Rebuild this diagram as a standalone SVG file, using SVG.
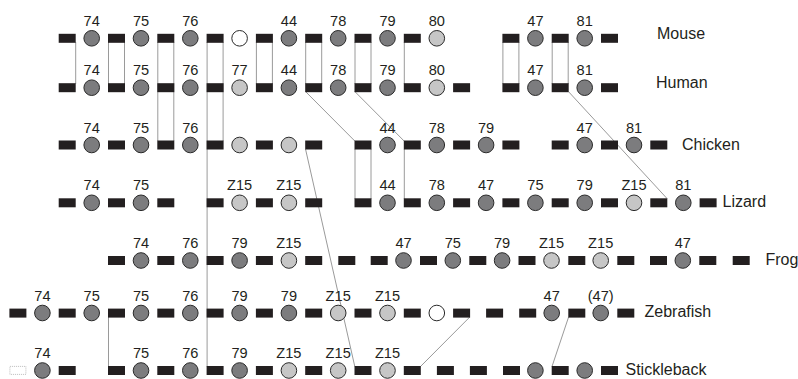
<svg xmlns="http://www.w3.org/2000/svg" width="798" height="379" viewBox="0 0 798 379">
<style>
.bg{fill:#fff}
.r{fill:#231f20}
.c{stroke:#2a2a2a;stroke-width:1}
.d{fill:#7c7c7e}
.l{fill:#c6c6c6}
.w{fill:#fff}
.t{font-family:"Liberation Sans",Arial,sans-serif;font-size:14.6px;fill:#231f20;text-anchor:middle}
.s{font-family:"Liberation Sans",Arial,sans-serif;font-size:16px;fill:#231f20}
.ln{stroke:#9a9a9a;stroke-width:1;fill:none}
.dot{fill:none;stroke:#aaa;stroke-width:0.8;stroke-dasharray:1 1}
</style>
<rect class="bg" x="0" y="0" width="798" height="379"/>
<g id="connectors">
<line class="ln" x1="75.7" y1="42" x2="75.7" y2="84"/>
<line class="ln" x1="108.5" y1="42" x2="108.5" y2="84"/>
<line class="ln" x1="124.5" y1="42" x2="124.5" y2="84"/>
<line class="ln" x1="157.8" y1="42" x2="157.8" y2="141"/>
<line class="ln" x1="173.8" y1="42" x2="173.8" y2="141"/>
<line class="ln" x1="207.1" y1="42" x2="207.1" y2="366.5"/>
<line class="ln" x1="223.1" y1="42" x2="223.1" y2="141"/>
<line class="ln" x1="256.4" y1="42" x2="256.4" y2="84"/>
<line class="ln" x1="272.4" y1="42" x2="272.4" y2="84"/>
<line class="ln" x1="305.7" y1="42" x2="305.7" y2="84"/>
<line class="ln" x1="321.7" y1="42" x2="321.7" y2="84"/>
<line class="ln" x1="355" y1="42" x2="355" y2="84"/>
<line class="ln" x1="371" y1="42" x2="371" y2="84"/>
<line class="ln" x1="404.3" y1="42" x2="404.3" y2="84"/>
<line class="ln" x1="502.9" y1="42" x2="502.9" y2="84"/>
<line class="ln" x1="518.9" y1="42" x2="518.9" y2="84"/>
<line class="ln" x1="552.2" y1="42" x2="552.2" y2="84"/>
<line class="ln" x1="568.2" y1="42" x2="568.2" y2="84"/>
<line class="ln" x1="305.5" y1="91.5" x2="354.8" y2="141"/>
<line class="ln" x1="354.8" y1="91.5" x2="404.1" y2="141"/>
<line class="ln" x1="568.4" y1="91.5" x2="667" y2="198.5"/>
<line class="ln" x1="355" y1="149" x2="355" y2="199"/>
<line class="ln" x1="371" y1="149" x2="371" y2="199"/>
<line class="ln" x1="404.3" y1="149" x2="404.3" y2="199"/>
<line class="ln" x1="305.5" y1="149" x2="354.8" y2="366.5"/>
<line class="ln" x1="108.5" y1="317" x2="108.5" y2="366.5"/>
<line class="ln" x1="469.8" y1="317" x2="420.5" y2="366.5"/>
<line class="ln" x1="568.6" y1="317" x2="552" y2="366.5"/>
</g>
<g id="mouse">
<rect class="r" x="58.7" y="33.8" width="17" height="9"/><rect class="r" x="108" y="33.8" width="17" height="9"/><rect class="r" x="157.3" y="33.8" width="17" height="9"/><rect class="r" x="206.6" y="33.8" width="17" height="9"/><rect class="r" x="255.9" y="33.8" width="17" height="9"/><rect class="r" x="305.2" y="33.8" width="17" height="9"/><rect class="r" x="354.5" y="33.8" width="17" height="9"/><rect class="r" x="403.8" y="33.8" width="17" height="9"/><rect class="r" x="502.4" y="33.8" width="17" height="9"/><rect class="r" x="551.7" y="33.8" width="17" height="9"/><rect class="r" x="601" y="33.8" width="17" height="9"/>
<g id="mouse-74"><circle class="c d" cx="91.7" cy="38.3" r="7.8"/><text class="t" x="91.7" y="26">74</text></g>
<g id="mouse-75"><circle class="c d" cx="141" cy="38.3" r="7.8"/><text class="t" x="141" y="26">75</text></g>
<g id="mouse-76"><circle class="c d" cx="190.3" cy="38.3" r="7.8"/><text class="t" x="190.3" y="26">76</text></g>
<g id="mouse-x"><circle class="c w" cx="239.6" cy="38.3" r="7.8"/></g>
<g id="mouse-44"><circle class="c d" cx="288.9" cy="38.3" r="7.8"/><text class="t" x="288.9" y="26">44</text></g>
<g id="mouse-78"><circle class="c d" cx="338.2" cy="38.3" r="7.8"/><text class="t" x="338.2" y="26">78</text></g>
<g id="mouse-79"><circle class="c d" cx="387.5" cy="38.3" r="7.8"/><text class="t" x="387.5" y="26">79</text></g>
<g id="mouse-80"><circle class="c l" cx="436.8" cy="38.3" r="7.8"/><text class="t" x="436.8" y="26">80</text></g>
<g id="mouse-47"><circle class="c d" cx="535.4" cy="38.3" r="7.8"/><text class="t" x="535.4" y="26">47</text></g>
<g id="mouse-81"><circle class="c d" cx="584.7" cy="38.3" r="7.8"/><text class="t" x="584.7" y="26">81</text></g>
<text class="s" x="657" y="38.7">Mouse</text>
</g>
<g id="human">
<rect class="r" x="58.7" y="83.2" width="17" height="9"/><rect class="r" x="108" y="83.2" width="17" height="9"/><rect class="r" x="157.3" y="83.2" width="17" height="9"/><rect class="r" x="206.6" y="83.2" width="17" height="9"/><rect class="r" x="255.9" y="83.2" width="17" height="9"/><rect class="r" x="305.2" y="83.2" width="17" height="9"/><rect class="r" x="354.5" y="83.2" width="17" height="9"/><rect class="r" x="403.8" y="83.2" width="17" height="9"/><rect class="r" x="453.1" y="83.2" width="17" height="9"/><rect class="r" x="502.4" y="83.2" width="17" height="9"/><rect class="r" x="551.7" y="83.2" width="17" height="9"/><rect class="r" x="601" y="83.2" width="17" height="9"/>
<g id="human-74"><circle class="c d" cx="91.7" cy="87.7" r="7.8"/><text class="t" x="91.7" y="75.3">74</text></g>
<g id="human-75"><circle class="c d" cx="141" cy="87.7" r="7.8"/><text class="t" x="141" y="75.3">75</text></g>
<g id="human-76"><circle class="c d" cx="190.3" cy="87.7" r="7.8"/><text class="t" x="190.3" y="75.3">76</text></g>
<g id="human-77"><circle class="c l" cx="239.6" cy="87.7" r="7.8"/><text class="t" x="239.6" y="75.3">77</text></g>
<g id="human-44"><circle class="c d" cx="288.9" cy="87.7" r="7.8"/><text class="t" x="288.9" y="75.3">44</text></g>
<g id="human-78"><circle class="c d" cx="338.2" cy="87.7" r="7.8"/><text class="t" x="338.2" y="75.3">78</text></g>
<g id="human-79"><circle class="c d" cx="387.5" cy="87.7" r="7.8"/><text class="t" x="387.5" y="75.3">79</text></g>
<g id="human-80"><circle class="c l" cx="436.8" cy="87.7" r="7.8"/><text class="t" x="436.8" y="75.3">80</text></g>
<g id="human-47"><circle class="c d" cx="535.4" cy="87.7" r="7.8"/><text class="t" x="535.4" y="75.3">47</text></g>
<g id="human-81"><circle class="c d" cx="584.7" cy="87.7" r="7.8"/><text class="t" x="584.7" y="75.3">81</text></g>
<text class="s" x="656" y="88">Human</text>
</g>
<g id="chicken">
<rect class="r" x="58.7" y="140.5" width="17" height="9"/><rect class="r" x="108" y="140.5" width="17" height="9"/><rect class="r" x="157.3" y="140.5" width="17" height="9"/><rect class="r" x="206.6" y="140.5" width="17" height="9"/><rect class="r" x="255.9" y="140.5" width="17" height="9"/><rect class="r" x="305.2" y="140.5" width="17" height="9"/><rect class="r" x="354.5" y="140.5" width="17" height="9"/><rect class="r" x="403.8" y="140.5" width="17" height="9"/><rect class="r" x="453.1" y="140.5" width="17" height="9"/><rect class="r" x="502.4" y="140.5" width="17" height="9"/><rect class="r" x="551.7" y="140.5" width="17" height="9"/><rect class="r" x="601" y="140.5" width="17" height="9"/><rect class="r" x="650.3" y="140.5" width="17" height="9"/>
<g id="chicken-74"><circle class="c d" cx="91.7" cy="145" r="7.8"/><text class="t" x="91.7" y="132.5">74</text></g>
<g id="chicken-75"><circle class="c d" cx="141" cy="145" r="7.8"/><text class="t" x="141" y="132.5">75</text></g>
<g id="chicken-76"><circle class="c d" cx="190.3" cy="145" r="7.8"/><text class="t" x="190.3" y="132.5">76</text></g>
<g id="chicken-a"><circle class="c l" cx="239.6" cy="145" r="7.8"/></g>
<g id="chicken-b"><circle class="c l" cx="288.9" cy="145" r="7.8"/></g>
<g id="chicken-44"><circle class="c d" cx="387.5" cy="145" r="7.8"/><text class="t" x="387.5" y="132.5">44</text></g>
<g id="chicken-78"><circle class="c d" cx="436.8" cy="145" r="7.8"/><text class="t" x="436.8" y="132.5">78</text></g>
<g id="chicken-79"><circle class="c d" cx="486.1" cy="145" r="7.8"/><text class="t" x="486.1" y="132.5">79</text></g>
<g id="chicken-47"><circle class="c d" cx="584.7" cy="145" r="7.8"/><text class="t" x="584.7" y="132.5">47</text></g>
<g id="chicken-81"><circle class="c d" cx="634" cy="145" r="7.8"/><text class="t" x="634" y="132.5">81</text></g>
<text class="s" x="682" y="150">Chicken</text>
</g>
<g id="lizard">
<rect class="r" x="58.7" y="198.3" width="17" height="9"/><rect class="r" x="108" y="198.3" width="17" height="9"/><rect class="r" x="157.3" y="198.3" width="17" height="9"/><rect class="r" x="206.6" y="198.3" width="17" height="9"/><rect class="r" x="255.9" y="198.3" width="17" height="9"/><rect class="r" x="305.2" y="198.3" width="17" height="9"/><rect class="r" x="354.5" y="198.3" width="17" height="9"/><rect class="r" x="403.8" y="198.3" width="17" height="9"/><rect class="r" x="453.1" y="198.3" width="17" height="9"/><rect class="r" x="502.4" y="198.3" width="17" height="9"/><rect class="r" x="551.7" y="198.3" width="17" height="9"/><rect class="r" x="601" y="198.3" width="17" height="9"/><rect class="r" x="650.3" y="198.3" width="17" height="9"/><rect class="r" x="699.6" y="198.3" width="17" height="9"/>
<g id="lizard-74"><circle class="c d" cx="91.7" cy="202.8" r="7.8"/><text class="t" x="91.7" y="190.3">74</text></g>
<g id="lizard-75a"><circle class="c d" cx="141" cy="202.8" r="7.8"/><text class="t" x="141" y="190.3">75</text></g>
<g id="lizard-z15a"><circle class="c l" cx="239.6" cy="202.8" r="7.8"/><text class="t" x="239.6" y="190.3">Z15</text></g>
<g id="lizard-z15b"><circle class="c l" cx="288.9" cy="202.8" r="7.8"/><text class="t" x="288.9" y="190.3">Z15</text></g>
<g id="lizard-44"><circle class="c d" cx="387.5" cy="202.8" r="7.8"/><text class="t" x="387.5" y="190.3">44</text></g>
<g id="lizard-78"><circle class="c d" cx="436.8" cy="202.8" r="7.8"/><text class="t" x="436.8" y="190.3">78</text></g>
<g id="lizard-47"><circle class="c d" cx="486.1" cy="202.8" r="7.8"/><text class="t" x="486.1" y="190.3">47</text></g>
<g id="lizard-75b"><circle class="c d" cx="535.4" cy="202.8" r="7.8"/><text class="t" x="535.4" y="190.3">75</text></g>
<g id="lizard-79"><circle class="c d" cx="584.7" cy="202.8" r="7.8"/><text class="t" x="584.7" y="190.3">79</text></g>
<g id="lizard-z15c"><circle class="c l" cx="634" cy="202.8" r="7.8"/><text class="t" x="634" y="190.3">Z15</text></g>
<g id="lizard-81"><circle class="c d" cx="683.3" cy="202.8" r="7.8"/><text class="t" x="683.3" y="190.3">81</text></g>
<text class="s" x="722.5" y="206.7">Lizard</text>
</g>
<g id="frog">
<rect class="r" x="108" y="256" width="17" height="9"/><rect class="r" x="157.3" y="256" width="17" height="9"/><rect class="r" x="206.6" y="256" width="17" height="9"/><rect class="r" x="255.9" y="256" width="17" height="9"/><rect class="r" x="305.2" y="256" width="17" height="9"/><rect class="r" x="338.3" y="256" width="17" height="9"/><rect class="r" x="370.7" y="256" width="17" height="9"/><rect class="r" x="420" y="256" width="17" height="9"/><rect class="r" x="469.3" y="256" width="17" height="9"/><rect class="r" x="518.5" y="256" width="17" height="9"/><rect class="r" x="568.3" y="256" width="17" height="9"/><rect class="r" x="617.3" y="256" width="17" height="9"/><rect class="r" x="650" y="256" width="17" height="9"/><rect class="r" x="699.3" y="256" width="17" height="9"/><rect class="r" x="732.7" y="256" width="17" height="9"/>
<g id="frog-74"><circle class="c d" cx="141" cy="260.5" r="7.8"/><text class="t" x="141" y="248">74</text></g>
<g id="frog-76"><circle class="c d" cx="190.3" cy="260.5" r="7.8"/><text class="t" x="190.3" y="248">76</text></g>
<g id="frog-79a"><circle class="c d" cx="239.6" cy="260.5" r="7.8"/><text class="t" x="239.6" y="248">79</text></g>
<g id="frog-z15a"><circle class="c l" cx="288.9" cy="260.5" r="7.8"/><text class="t" x="288.9" y="248">Z15</text></g>
<g id="frog-47a"><circle class="c d" cx="403.5" cy="260.5" r="7.8"/><text class="t" x="403.5" y="248">47</text></g>
<g id="frog-75"><circle class="c d" cx="452.8" cy="260.5" r="7.8"/><text class="t" x="452.8" y="248">75</text></g>
<g id="frog-79b"><circle class="c d" cx="502.1" cy="260.5" r="7.8"/><text class="t" x="502.1" y="248">79</text></g>
<g id="frog-z15b"><circle class="c l" cx="551.5" cy="260.5" r="7.8"/><text class="t" x="551.5" y="248">Z15</text></g>
<g id="frog-z15c"><circle class="c l" cx="600.7" cy="260.5" r="7.8"/><text class="t" x="600.7" y="248">Z15</text></g>
<g id="frog-47b"><circle class="c d" cx="682.8" cy="260.5" r="7.8"/><text class="t" x="682.8" y="248">47</text></g>
<text class="s" x="765.5" y="264.7">Frog</text>
</g>
<g id="zebrafish">
<rect class="r" x="9.4" y="308.6" width="17" height="9"/><rect class="r" x="58.7" y="308.6" width="17" height="9"/><rect class="r" x="108" y="308.6" width="17" height="9"/><rect class="r" x="157.3" y="308.6" width="17" height="9"/><rect class="r" x="206.6" y="308.6" width="17" height="9"/><rect class="r" x="255.9" y="308.6" width="17" height="9"/><rect class="r" x="305.2" y="308.6" width="17" height="9"/><rect class="r" x="354.5" y="308.6" width="17" height="9"/><rect class="r" x="403.8" y="308.6" width="17" height="9"/><rect class="r" x="453.1" y="308.6" width="17" height="9"/><rect class="r" x="486.1" y="308.6" width="17" height="9"/><rect class="r" x="519.2" y="308.6" width="17" height="9"/><rect class="r" x="568.3" y="308.6" width="17" height="9"/><rect class="r" x="617.3" y="308.6" width="17" height="9"/>
<g id="zebrafish-74"><circle class="c d" cx="42.4" cy="313" r="7.8"/><text class="t" x="42.4" y="300.5">74</text></g>
<g id="zebrafish-75a"><circle class="c d" cx="91.7" cy="313" r="7.8"/><text class="t" x="91.7" y="300.5">75</text></g>
<g id="zebrafish-75b"><circle class="c d" cx="141" cy="313" r="7.8"/><text class="t" x="141" y="300.5">75</text></g>
<g id="zebrafish-76"><circle class="c d" cx="190.3" cy="313" r="7.8"/><text class="t" x="190.3" y="300.5">76</text></g>
<g id="zebrafish-79a"><circle class="c d" cx="239.6" cy="313" r="7.8"/><text class="t" x="239.6" y="300.5">79</text></g>
<g id="zebrafish-79b"><circle class="c d" cx="288.9" cy="313" r="7.8"/><text class="t" x="288.9" y="300.5">79</text></g>
<g id="zebrafish-z15a"><circle class="c l" cx="338.2" cy="313" r="7.8"/><text class="t" x="338.2" y="300.5">Z15</text></g>
<g id="zebrafish-z15b"><circle class="c l" cx="387.5" cy="313" r="7.8"/><text class="t" x="387.5" y="300.5">Z15</text></g>
<g id="zebrafish-x"><circle class="c w" cx="436.8" cy="313" r="7.8"/></g>
<g id="zebrafish-47"><circle class="c d" cx="551.7" cy="313" r="7.8"/><text class="t" x="551.7" y="300.5">47</text></g>
<g id="zebrafish-47p"><circle class="c d" cx="600.7" cy="313" r="7.8"/><text class="t" x="600.7" y="300.5">(47)</text></g>
<text class="s" x="644.5" y="317.3">Zebrafish</text>
</g>
<g id="stickleback">
<rect class="dot" x="9.9" y="366.4" width="16" height="8"/>
<rect class="r" x="58.7" y="366" width="17" height="9"/><rect class="r" x="108" y="366" width="17" height="9"/><rect class="r" x="157.3" y="366" width="17" height="9"/><rect class="r" x="206.6" y="366" width="17" height="9"/><rect class="r" x="255.9" y="366" width="17" height="9"/><rect class="r" x="305.2" y="366" width="17" height="9"/><rect class="r" x="354.5" y="366" width="17" height="9"/><rect class="r" x="403.8" y="366" width="17" height="9"/><rect class="r" x="436.9" y="366" width="17" height="9"/><rect class="r" x="469.9" y="366" width="17" height="9"/><rect class="r" x="503" y="366" width="17" height="9"/><rect class="r" x="551.7" y="366" width="17" height="9"/><rect class="r" x="601" y="366" width="17" height="9"/>
<g id="stickleback-74"><circle class="c d" cx="42.4" cy="370.5" r="7.8"/><text class="t" x="42.4" y="358.2">74</text></g>
<g id="stickleback-75"><circle class="c d" cx="141" cy="370.5" r="7.8"/><text class="t" x="141" y="358.2">75</text></g>
<g id="stickleback-76"><circle class="c d" cx="190.3" cy="370.5" r="7.8"/><text class="t" x="190.3" y="358.2">76</text></g>
<g id="stickleback-79"><circle class="c d" cx="239.6" cy="370.5" r="7.8"/><text class="t" x="239.6" y="358.2">79</text></g>
<g id="stickleback-z15a"><circle class="c l" cx="288.9" cy="370.5" r="7.8"/><text class="t" x="288.9" y="358.2">Z15</text></g>
<g id="stickleback-z15b"><circle class="c l" cx="338.2" cy="370.5" r="7.8"/><text class="t" x="338.2" y="358.2">Z15</text></g>
<g id="stickleback-z15c"><circle class="c l" cx="387.5" cy="370.5" r="7.8"/><text class="t" x="387.5" y="358.2">Z15</text></g>
<g id="stickleback-a"><circle class="c d" cx="535.4" cy="370.5" r="7.8"/></g>
<g id="stickleback-b"><circle class="c d" cx="584.7" cy="370.5" r="7.8"/></g>
<text class="s" x="625.5" y="375">Stickleback</text>
</g>
</svg>
